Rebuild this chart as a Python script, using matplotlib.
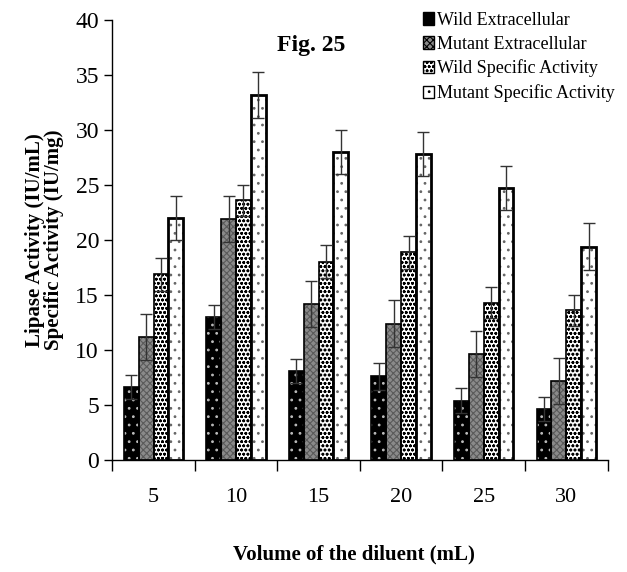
import numpy as np
import matplotlib
matplotlib.use('Agg')
import matplotlib.pyplot as plt

plt.rcParams['font.family'] = ['Liberation Serif', 'DejaVu Serif']
plt.rcParams['hatch.linewidth'] = 0.8

volumes = ['5', '10', '15', '20', '25', '30']
series_names = ['Wild Extracellular', 'Mutant Extracellular',
                'Wild Specific Activity', 'Mutant Specific Activity']
wild_ext = [6.6, 13.0, 8.1, 7.6, 5.4, 4.6]
mutant_ext = [11.2, 21.9, 14.2, 12.4, 9.6, 7.2]
wild_spec = [16.9, 23.6, 18.0, 18.9, 14.3, 13.6]
mutant_spec = [22.0, 33.2, 28.0, 27.8, 24.7, 19.4]
wild_ext_err = [1.1, 1.1, 1.1, 1.2, 1.1, 1.1]
mutant_ext_err = [2.1, 2.1, 2.1, 2.1, 2.1, 2.1]
wild_spec_err = [1.5, 1.4, 1.5, 1.5, 1.4, 1.4]
mutant_spec_err = [2.0, 2.1, 2.0, 2.0, 2.0, 2.1]

values = [wild_ext, mutant_ext, wild_spec, mutant_spec]
errors = [wild_ext_err, mutant_ext_err, wild_spec_err, mutant_spec_err]

# face colour, hatch, hatch colour, outline width
styles = [('black', '..', '#bbbbbb', 1.2),
          ('#8a8a8a', 'xxxxx', '#5a5a5a', 1.2),
          ('white', 'oooo', 'black', 1.2),
          ('white', '..', '#666666', 2.0)]

fig = plt.figure(figsize=(6.27, 5.72), dpi=100)
ax = fig.add_axes([0.179, 0.196, 0.79, 0.769])

x = np.arange(len(volumes))
w = 0.18
offsets = (np.arange(4) - 1.5) * w

handles = []
for i in range(4):
    fc, hatch, hc, lw = styles[i]
    xs = x + offsets[i]
    ax.bar(xs, values[i], w, color=fc, hatch=hatch, edgecolor=hc, linewidth=0, zorder=2)
    ax.bar(xs, values[i], w, fill=False, edgecolor='black', linewidth=lw, zorder=3)
    ax.errorbar(xs, values[i], yerr=errors[i], fmt='none', ecolor='#333333',
                elinewidth=1, capsize=4, capthick=1, zorder=4)
    h = plt.Rectangle((0, 0), 1, 1, facecolor=fc, hatch=hatch, edgecolor='black', linewidth=1)
    handles.append(h)

ax.set_xlim(-0.5, len(volumes) - 0.5)
ax.set_ylim(0, 40)
ax.set_yticks(np.arange(0, 41, 5))
ax.set_xticks(np.arange(-0.5, len(volumes), 1.0))
ax.set_xticklabels([])
ax.set_xticks(x, minor=True)
ax.set_xticklabels(volumes, minor=True)
ax.tick_params(axis='x', which='major', length=8, width=1, direction='out')
ax.tick_params(axis='x', which='minor', length=0, pad=20, labelsize=16)
ax.tick_params(axis='y', length=6, width=1, direction='out', labelsize=17)
for s in ['top', 'right']:
    ax.spines[s].set_visible(False)
ax.spines['left'].set_linewidth(1)
ax.spines['bottom'].set_linewidth(1)

ax.set_ylabel('Lipase Activity (IU/mL)\nSpecific Activity (IU/mg)',
              fontsize=15, fontweight='bold', labelpad=8, linespacing=0.95)
fig.text(0.565, 0.03, 'Volume of the diluent (mL)', ha='center', va='center',
         fontsize=15, fontweight='bold')
fig.text(0.497, 0.92, 'Fig. 25', ha='center', va='center', fontsize=17, fontweight='bold')

leg = ax.legend(handles, series_names, loc='upper right', bbox_to_anchor=(1.03, 1.035),
                frameon=False, fontsize=13, handlelength=0.6, handleheight=0.7,
                handletextpad=0.2, labelspacing=0.38, borderaxespad=0)

fig.savefig('out.png', dpi=100)
